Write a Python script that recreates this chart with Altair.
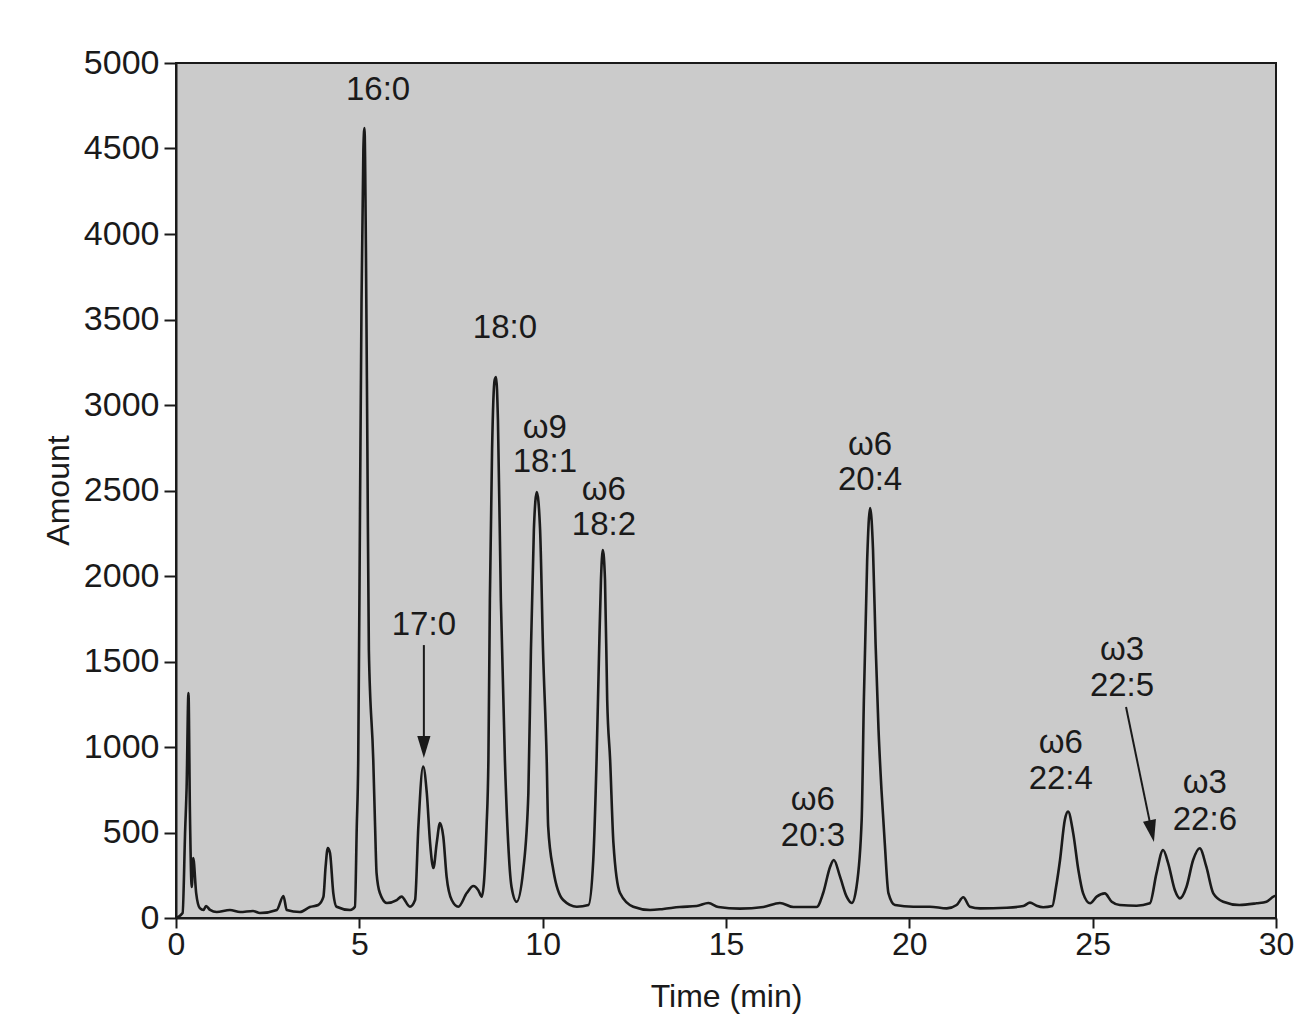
import altair as alt
import pandas as pd

# Chromatogram trace
time_min = [
    0.00, 0.18, 0.25, 0.29, 0.34, 0.38, 0.43, 0.47, 0.55, 0.65, 0.75, 0.82, 0.93,
    1.11, 1.47, 1.75, 2.10, 2.29, 2.75, 2.93, 3.02, 3.38, 3.65, 3.88, 4.02, 4.08,
    4.14, 4.20, 4.29, 4.38, 4.75, 4.88, 4.93, 4.97, 5.02, 5.06, 5.11, 5.14, 5.18,
    5.22, 5.26, 5.38, 5.43, 5.47, 5.56, 5.75, 6.02, 6.15, 6.38, 6.52, 6.61, 6.74,
    6.84, 6.93, 7.02, 7.11, 7.20, 7.29, 7.38, 7.52, 7.70, 7.93, 8.11, 8.24, 8.34,
    8.47, 8.52, 8.56, 8.62, 8.69, 8.73, 8.78, 8.86, 8.97, 9.06, 9.15, 9.29, 9.47,
    9.61, 9.68, 9.76, 9.84, 9.93, 10.01, 10.11, 10.15, 10.29, 10.56, 10.93, 11.25,
    11.38, 11.47, 11.54, 11.59, 11.64, 11.70, 11.76, 11.84, 11.93, 12.11, 12.47,
    12.93, 13.29, 13.74, 14.20, 14.52, 14.79, 15.38, 16.02, 16.47, 16.84, 17.47,
    17.65, 17.84, 17.94, 18.11, 18.29, 18.43, 18.56, 18.70, 18.76, 18.85, 18.93,
    19.01, 19.08, 19.16, 19.24, 19.33, 19.43, 19.61, 20.11, 20.56, 21.02, 21.29,
    21.47, 21.65, 21.93, 22.65, 23.11, 23.29, 23.47, 23.65, 23.90, 24.00, 24.11,
    24.24, 24.33, 24.47, 24.61, 24.74, 24.93, 25.11, 25.33, 25.52, 25.74, 26.20,
    26.56, 26.74, 26.92, 27.06, 27.24, 27.38, 27.56, 27.74, 27.92, 28.10, 28.29,
    28.56, 29.00, 29.47, 29.74, 29.93, 30.00,
]
amount = [
    0, 29, 515, 766, 1316, 614, 181, 351, 146, 58, 47, 70, 47,
    35, 47, 35, 41, 29, 47, 129, 47, 35, 64, 76, 123, 300,
    409, 380, 146, 66, 47, 66, 534, 924, 2444, 3614, 4491, 4620, 3906,
    2737, 1567, 924, 534, 263, 146, 88, 105, 125, 66, 105, 534, 885,
    731, 438, 292, 438, 555, 475, 242, 105, 66, 146, 187, 164, 125,
    534, 924, 1860, 2737, 3146, 3164, 2912, 1860, 924, 438, 183, 95, 281,
    731, 1567, 2269, 2491, 2269, 1567, 924, 534, 281, 105, 66, 76,
    339, 924, 1567, 1977, 2152, 1977, 1275, 924, 438, 146, 66,
    47, 53, 64, 70, 88, 64, 55, 64, 88, 64, 64,
    146, 300, 339, 242, 125, 88, 183, 573, 1275, 2094, 2398,
    2150, 1600, 1100, 750, 438, 146, 76, 66, 66, 56, 76,
    121, 66, 56, 60, 70, 90, 72, 63, 70, 180, 339,
    573, 622, 495, 281, 144, 86, 125, 144, 95, 76, 72,
    86, 261, 398, 320, 164, 115, 183, 339, 408, 300, 144,
    95, 76, 86, 95, 125, 130,
]

# Peak labels
label_text = ["16:0", "18:0", "ω9", "18:1", "ω6", "18:2", "17:0",
              "ω6", "20:3", "ω6", "20:4", "ω6", "22:4", "ω3", "22:5", "ω3", "22:6"]
label_t = [5.51, 8.97, 10.06, 10.06, 11.67, 11.67, 6.76,
           17.37, 17.37, 18.93, 18.93, 24.13, 24.13, 25.80, 25.80, 28.06, 28.06]
label_a = [4842, 3450, 2865, 2667, 2503, 2298, 1713,
           690, 480, 2766, 2561, 1023, 813, 1567, 1357, 789, 573]

# Arrows (17:0 and 22:5)
arrow_t1 = [6.76, 25.91]
arrow_a1 = [1596, 1234]
arrow_t2 = [6.76, 26.61]
arrow_a2 = [1000, 508]
arrow_angle = [0, 348.3]

x_ticks = [0, 5, 10, 15, 20, 25, 30]
y_ticks = [0, 500, 1000, 1500, 2000, 2500, 3000, 3500, 4000, 4500, 5000]

FONT = "Liberation Sans"
INK = "#1a1a1a"

trace = pd.DataFrame({"t": time_min, "a": amount})
labels = pd.DataFrame({"text": label_text, "t": label_t, "a": label_a})
arrows = pd.DataFrame({"t1": arrow_t1, "a1": arrow_a1, "t2": arrow_t2,
                       "a2": arrow_a2, "ang": arrow_angle})

xscale = alt.Scale(domain=[0, 30], nice=False, zero=False)
yscale = alt.Scale(domain=[0, 5000], nice=False)

xaxis = alt.Axis(values=x_ticks, title="Time (min)", grid=False, format="d",
                 tickSize=10, tickWidth=2, tickColor=INK,
                 domainColor=INK, domainWidth=2,
                 labelFont=FONT, labelFontSize=32, labelColor=INK,
                 labelPadding=1, labelFlush=False, labelOverlap=False,
                 titleFont=FONT, titleFontSize=32, titleFontWeight="normal",
                 titleColor=INK, titleY=88, titleBaseline="alphabetic")
yaxis = alt.Axis(values=y_ticks, title="Amount", grid=False, format="d",
                 tickSize=12, tickWidth=2, tickColor=INK,
                 domainColor=INK, domainWidth=2,
                 labelFont=FONT, labelFontSize=34, labelColor=INK,
                 labelPadding=5, labelOverlap=False,
                 titleFont=FONT, titleFontSize=32, titleFontWeight="normal",
                 titleColor=INK, titleX=-108, titleY=427,
                 titleBaseline="alphabetic")

line = alt.Chart(trace).mark_line(color=INK, strokeWidth=2.6,
                                  interpolate="monotone", clip=True).encode(
    x=alt.X("t:Q", scale=xscale, axis=xaxis),
    y=alt.Y("a:Q", scale=yscale, axis=yaxis),
)

text = alt.Chart(labels).mark_text(font=FONT, fontSize=33, color=INK,
                                   align="center", baseline="middle").encode(
    x=alt.X("t:Q", scale=xscale),
    y=alt.Y("a:Q", scale=yscale),
    text="text:N",
)

arrow_lines = alt.Chart(arrows).mark_rule(color=INK, strokeWidth=2).encode(
    x=alt.X("t1:Q", scale=xscale),
    y=alt.Y("a1:Q", scale=yscale),
    x2="t2:Q",
    y2="a2:Q",
)

arrow_heads = alt.Chart(arrows).mark_point(
    shape="M0,1L-0.6,-1L0.6,-1Z", filled=True, size=484,
    color=INK, opacity=1).encode(
    x=alt.X("t2:Q", scale=xscale),
    y=alt.Y("a2:Q", scale=yscale),
    angle=alt.Angle("ang:Q", scale=None),
)

chart = alt.layer(line, arrow_lines, arrow_heads, text).properties(
    width=1100, height=855,
    autosize=alt.AutoSizeParams(type="none"),
    padding={"left": 168, "top": 55, "right": 20, "bottom": 100},
    background="white",
).configure_view(stroke=INK, strokeWidth=2, fill="#cbcbcb")

chart.save("out.html", embed_options={"renderer": "svg", "actions": False})
